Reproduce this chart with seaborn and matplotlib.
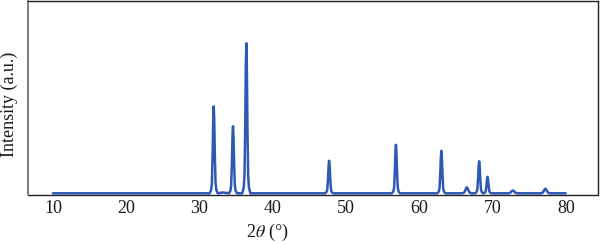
import matplotlib
matplotlib.use("Agg")
import matplotlib.pyplot as plt
import seaborn as sns
import pandas as pd

# XRD pattern (2theta in degrees, intensity in arbitrary units)
two_theta = [
    10.00,
    31.40, 31.60, 31.70, 31.80, 31.88, 31.95, 32.02, 32.10, 32.20, 32.30, 32.50,
    33.20,
    34.03, 34.23, 34.33, 34.43, 34.51, 34.58, 34.65, 34.73, 34.83, 34.93, 35.13,
    35.85, 36.05, 36.15, 36.25, 36.33, 36.40, 36.47, 36.55, 36.65, 36.75, 36.95,
    47.15, 47.35, 47.45, 47.55, 47.63, 47.70, 47.77, 47.85, 47.95, 48.05, 48.25,
    56.27, 56.47, 56.57, 56.67, 56.75, 56.82, 56.89, 56.97, 57.07, 57.17, 57.37,
    62.47, 62.67, 62.77, 62.87, 62.95, 63.02, 63.09, 63.17, 63.27, 63.37, 63.57,
    65.85, 66.08, 66.20, 66.32, 66.42, 66.50, 66.58, 66.68, 66.80, 66.92, 67.15,
    67.63, 67.83, 67.93, 68.03, 68.11, 68.18, 68.25, 68.33, 68.43, 68.53, 68.73,
    68.77, 68.97, 69.07, 69.17, 69.25, 69.32, 69.39, 69.47, 69.57, 69.67, 69.87,
    72.13, 72.36, 72.48, 72.60, 72.70, 72.78, 72.86, 72.96, 73.08, 73.20, 73.43,
    76.57, 76.80, 76.92, 77.04, 77.14, 77.22, 77.30, 77.40, 77.52, 77.64, 77.87,
    80.00,
]
intensity = [
    0.0,
    0.0, 3.5, 10.4, 39.2, 74.0, 87.0, 74.0, 39.2, 10.4, 3.5, 0.0,
    0.8,
    0.0, 2.7, 8.0, 30.0, 57.0, 67.0, 57.0, 30.0, 8.0, 2.7, 0.0,
    0.0, 6.0, 18.0, 67.5, 127.5, 150.0, 127.5, 67.5, 18.0, 6.0, 0.0,
    0.0, 1.3, 3.9, 14.6, 27.6, 32.5, 27.6, 14.6, 3.9, 1.3, 0.0,
    0.0, 1.9, 5.8, 21.8, 41.2, 48.5, 41.2, 21.8, 5.8, 1.9, 0.0,
    0.0, 1.7, 5.1, 19.1, 36.1, 42.5, 36.1, 19.1, 5.1, 1.7, 0.0,
    0.0, 0.6, 1.5, 3.5, 5.4, 6.0, 5.4, 3.5, 1.5, 0.6, 0.0,
    0.0, 1.3, 3.8, 14.4, 27.2, 32.0, 27.2, 14.4, 3.8, 1.3, 0.0,
    0.0, 0.7, 2.0, 7.4, 14.0, 16.5, 14.0, 7.4, 2.0, 0.7, 0.0,
    0.0, 0.4, 0.9, 1.9, 2.6, 2.8, 2.6, 1.9, 0.9, 0.4, 0.0,
    0.0, 0.5, 1.2, 2.8, 4.1, 4.5, 4.1, 2.8, 1.2, 0.5, 0.0,
    0.0,
]
x_ticks = [10, 20, 30, 40, 50, 60, 70, 80]

sns.set_style("white")
plt.rcParams["font.family"] = ["Liberation Serif", "DejaVu Serif"]
plt.rcParams["mathtext.fontset"] = "stix"

df = pd.DataFrame({"two_theta": two_theta, "intensity": intensity})

fig = plt.figure(figsize=(6.0, 2.43), dpi=100)
ax = fig.add_axes([28 / 600, (243 - 194.5) / 243, 570 / 600, 193.5 / 243])

sns.lineplot(data=df, x="two_theta", y="intensity", ax=ax, color="#2d58b6",
             linewidth=1.8, estimator=None, sort=True)

ax.set_xlim(6.6, 84.4)
ax.set_ylim(-1.2, 192.3)
ax.set_xticks(x_ticks)
ax.set_xticklabels([str(t) for t in x_ticks])
ax.set_yticks([])
ax.tick_params(axis="x", length=0, pad=4, labelsize=13, colors="#1a1a1a")
ax.set_xlabel(r"2$\theta$ (°)", fontsize=13, color="#1a1a1a")
ax.set_ylabel("Intensity (a.u.)", fontsize=13, color="#1a1a1a")
ax.xaxis.set_label_coords((267 - 28) / 570, (194.5 - 222) / 193.5)
ax.yaxis.set_label_coords((18 - 28) / 570, (194.5 - 104) / 193.5)

for side in ["top", "right", "bottom"]:
    ax.spines[side].set_color("#222222")
    ax.spines[side].set_linewidth(1.0)
ax.spines["left"].set_color("#666666")
ax.spines["left"].set_linewidth(1.2)

fig.savefig("out.png", dpi=100)
